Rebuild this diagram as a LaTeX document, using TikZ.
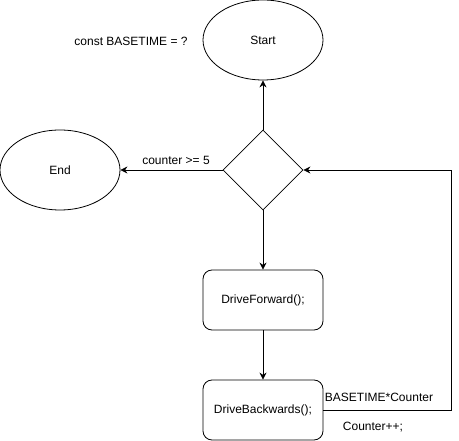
\documentclass[tikz,border=0pt]{standalone}
\usepackage{fontspec}
\setmainfont{Liberation Sans}
\usetikzlibrary{arrows.meta,shapes.geometric}
\begin{document}
\begin{tikzpicture}[x=1pt,y=-1pt,
  every node/.style={font=\fontsize{12}{14}\selectfont},
  oval/.style={draw,ellipse,line width=0.8pt,minimum width=120pt,minimum height=80pt,inner sep=0pt},
  proc/.style={draw,rounded corners=9pt,line width=0.8pt,minimum width=120pt,minimum height=60pt,inner sep=0pt},
  dec/.style={draw,diamond,line width=0.8pt,minimum width=80pt,minimum height=80pt,inner sep=0pt,aspect=1},
  conn/.style={line width=0.8pt,-{Stealth[length=7pt,width=7pt]}},
  lbl/.style={inner sep=0pt}]
\useasboundingbox (0,0) rectangle (459,441);
\node[oval] (start) at (263,40) {Start};
\node[lbl] (const) at (131,41) {const BASETIME = ?};
\node[oval] (end) at (60,170) {End};
\node[dec] (d) at (263,170) {};
\node[proc] (fwd) at (263,300) {DriveForward();};
\node[proc] (bwd) at (263,410) {DriveBackwards();};
\coordinate (c1) at (451,410);
\coordinate (c2) at (451,170);
\draw[conn] (d.north) -- (start.south);
\draw[conn] (d.west) -- (end.east);
\draw[conn] (d.south) -- (fwd.north);
\draw[conn] (fwd.south) -- (bwd.north);
\draw[conn] (bwd.east) -- (c1) -- (c2) -- (d.east);
\node[lbl] (lc) at (176,160) {counter >= 5};
\node[lbl] (lb) at (379,397) {BASETIME*Counter};
\node[lbl] (lp) at (373,427) {Counter++;};
\end{tikzpicture}
\end{document}
